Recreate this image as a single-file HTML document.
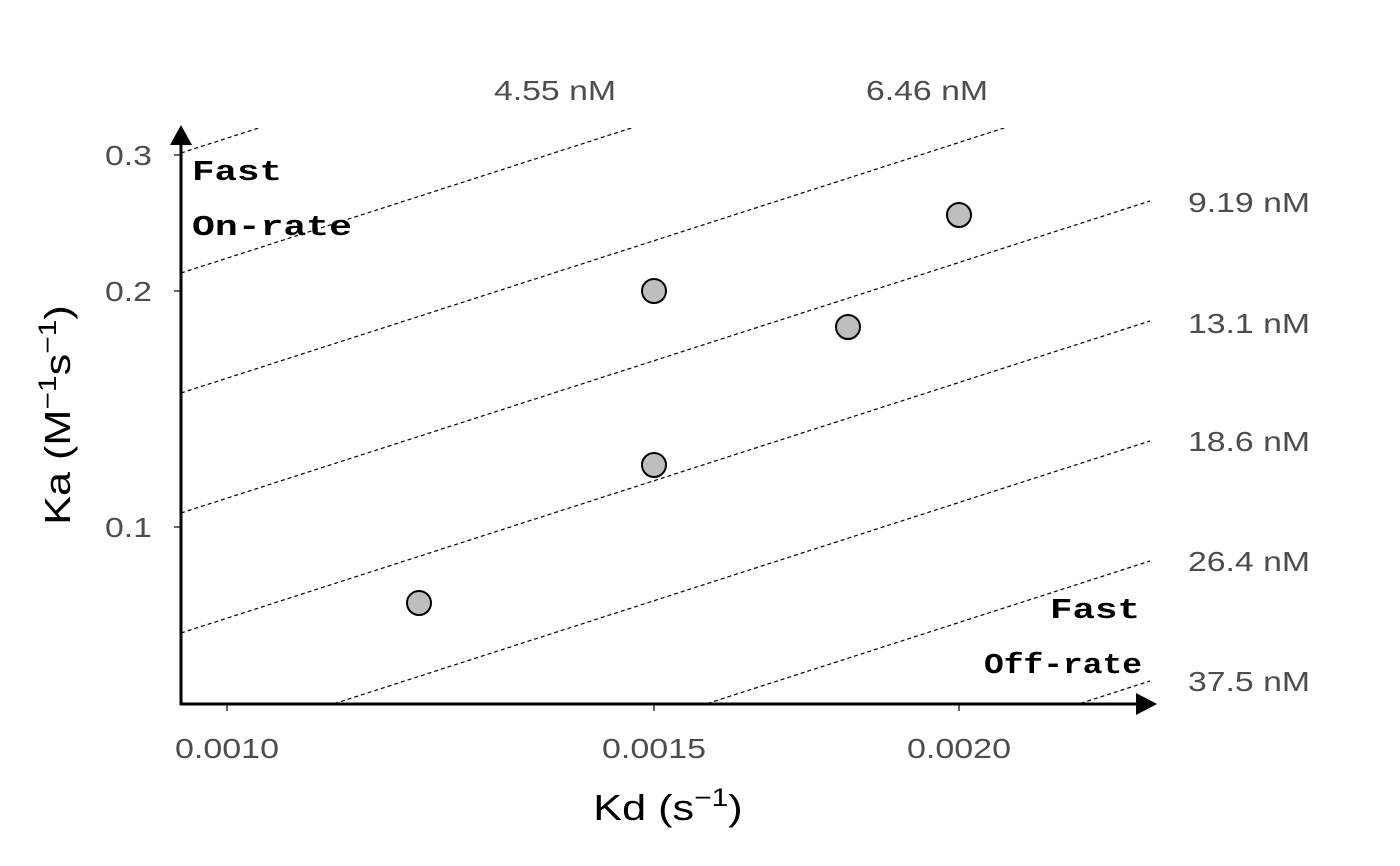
<!DOCTYPE html>
<html><head><meta charset="utf-8"><style>html,body{margin:0;padding:0;background:#fff;overflow:hidden;width:1400px;height:866px}svg{display:block}</style></head>
<body>
<svg width="1400" height="866" viewBox="0 0 1400 866" xmlns="http://www.w3.org/2000/svg" font-family="Liberation Sans, Arial, sans-serif">
<defs><clipPath id="c"><rect x="181" y="128" width="969" height="576"/></clipPath></defs>
<g clip-path="url(#c)" stroke="#000" stroke-width="1.2" stroke-dasharray="4,3" fill="none">
<line x1="181" y1="153" x2="1150" y2="-159"/>
<line x1="181" y1="273" x2="1150" y2="-39"/>
<line x1="181" y1="393" x2="1150" y2="81"/>
<line x1="181" y1="513" x2="1150" y2="201"/>
<line x1="181" y1="633" x2="1150" y2="321"/>
<line x1="181" y1="753" x2="1150" y2="441"/>
<line x1="181" y1="873" x2="1150" y2="561"/>
<line x1="181" y1="993" x2="1150" y2="681"/>
</g>
<g fill="#4d4d4d" font-size="28" lengthAdjust="spacingAndGlyphs">
<text x="494" y="100" textLength="122" lengthAdjust="spacingAndGlyphs">4.55 nM</text>
<text x="866" y="100" textLength="122" lengthAdjust="spacingAndGlyphs">6.46 nM</text>
<text x="1188" y="212" textLength="122" lengthAdjust="spacingAndGlyphs">9.19 nM</text>
<text x="1188" y="333" textLength="122" lengthAdjust="spacingAndGlyphs">13.1 nM</text>
<text x="1188" y="451" textLength="122" lengthAdjust="spacingAndGlyphs">18.6 nM</text>
<text x="1188" y="571" textLength="122" lengthAdjust="spacingAndGlyphs">26.4 nM</text>
<text x="1188" y="691" textLength="122" lengthAdjust="spacingAndGlyphs">37.5 nM</text>
<text x="105" y="165" textLength="47" lengthAdjust="spacingAndGlyphs">0.3</text>
<text x="105" y="301" textLength="47" lengthAdjust="spacingAndGlyphs">0.2</text>
<text x="105" y="537" textLength="47" lengthAdjust="spacingAndGlyphs">0.1</text>
<text x="175" y="758" textLength="104" lengthAdjust="spacingAndGlyphs">0.0010</text>
<text x="602" y="758" textLength="104" lengthAdjust="spacingAndGlyphs">0.0015</text>
<text x="907" y="758" textLength="104" lengthAdjust="spacingAndGlyphs">0.0020</text>
</g>
<g stroke="#333" stroke-width="1.5">
<line x1="174" y1="155" x2="181" y2="155"/><line x1="174" y1="291" x2="181" y2="291"/><line x1="174" y1="527" x2="181" y2="527"/>
<line x1="227" y1="704" x2="227" y2="711"/><line x1="654" y1="704" x2="654" y2="711"/><line x1="959" y1="704" x2="959" y2="711"/>
</g>
<g stroke="#000" stroke-width="3" fill="none">
<line x1="181" y1="705" x2="181" y2="140"/>
<line x1="180" y1="704" x2="1140" y2="704"/>
</g>
<polygon points="181,125 170,145 192,145" fill="#000"/>
<polygon points="1157,704 1136,693 1136,715" fill="#000"/>
<g fill="#bebebe" stroke="#000" stroke-width="2">
<circle cx="419" cy="603" r="12"/><circle cx="654" cy="291" r="12"/><circle cx="654" cy="465" r="12"/>
<circle cx="848" cy="327" r="12"/><circle cx="959" cy="215" r="12"/>
</g>
<g font-family="Liberation Mono, monospace" font-weight="bold" font-size="29" fill="#000">
<text x="192" y="180" textLength="90" lengthAdjust="spacingAndGlyphs">Fast</text>
<text x="192" y="235" textLength="160" lengthAdjust="spacingAndGlyphs">On-rate</text>
<text x="1050" y="618" textLength="90" lengthAdjust="spacingAndGlyphs">Fast</text>
<text x="984" y="673" textLength="158" lengthAdjust="spacingAndGlyphs">Off-rate</text>
</g>
<g transform="translate(668,820) scale(1.2,1)"><text x="0" y="0" text-anchor="middle" font-size="36" fill="#000">Kd (s<tspan font-size="25" dy="-14">−1</tspan><tspan dy="14">)</tspan></text></g>
<g transform="translate(70,415) rotate(-90) scale(1.2,1)"><text x="0" y="0" text-anchor="middle" font-size="36" fill="#000">Ka (M<tspan font-size="25" dy="-14">−1</tspan><tspan dy="14">s</tspan><tspan font-size="25" dy="-14">−1</tspan><tspan dy="14">)</tspan></text></g>
</svg>
</body></html>
